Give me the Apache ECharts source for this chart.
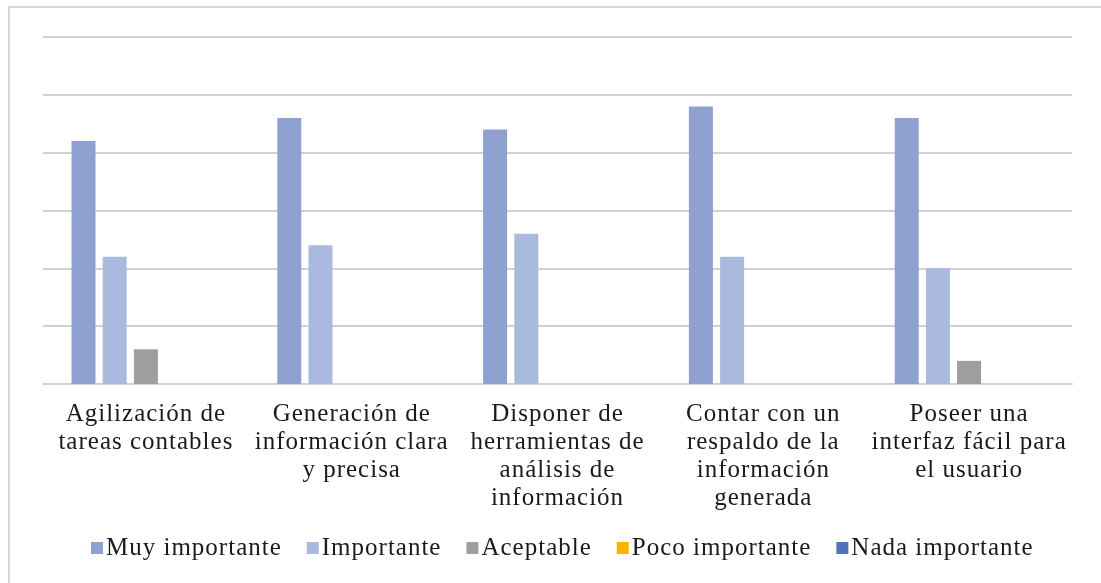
<!DOCTYPE html>
<html>
<head>
<meta charset="utf-8">
<script src="https://cdn.jsdelivr.net/npm/echarts@6/dist/echarts.min.js"></script>
<style>
    html, body { margin: 0; padding: 0; background: #fff; }
    #frame { position: absolute; left: 8px; top: 6px; width: 1200px; height: 700px;
             border-left: 2px solid #d6d6d6; border-top: 2px solid #d6d6d6; }
    #chart { position: absolute; left: 0; top: 0; width: 1101px; height: 583px; }
</style>
</head>
<body>
<div id="frame"></div>
<div id="chart"></div>
<script>
    // categorías (con saltos de línea como en el original)
    var categories = [
        'Agilización de\ntareas contables',
        'Generación de\ninformación clara\ny precisa',
        'Disponer de\nherramientas de\nanálisis de\ninformación',
        'Contar con un\nrespaldo de la\ninformación\ngenerada',
        'Poseer una\ninterfaz fácil para\nel usuario'
    ];
    var muyImportante = [21, 23, 22, 24, 23];
    var importante = [11, 12, 13, 11, 10];
    var aceptable = [3, 0, 0, 0, 2];
    var pocoImportante = [0, 0, 0, 0, 0];
    var nadaImportante = [0, 0, 0, 0, 0];

    var seriesNames = ['Muy importante', 'Importante', 'Aceptable', 'Poco importante', 'Nada importante'];
    var seriesData = [muyImportante, importante, aceptable, pocoImportante, nadaImportante];
    var colors = ['#8ea1d0', '#aabadf', '#9e9e9e', '#ffb300', '#4f72b8'];

    var font = '"Liberation Serif", "DejaVu Serif", serif';

    // el texto original está algo espaciado; se imita con letterSpacing del canvas
    var proto = CanvasRenderingContext2D.prototype;
    var origFill = proto.fillText, origMeasure = proto.measureText;
    proto.fillText = function () { this.letterSpacing = '1px'; return origFill.apply(this, arguments); };
    proto.measureText = function () { this.letterSpacing = '1px'; return origMeasure.apply(this, arguments); };

    var chart = echarts.init(document.getElementById('chart'));
    var series = [];
    for (var i = 0; i < seriesNames.length; i++) {
        series.push({
            name: seriesNames[i],
            type: 'bar',
            data: seriesData[i],
            barWidth: 24,
            barGap: '30%',
            itemStyle: { color: colors[i] }
        });
    }
    chart.setOption({
        animation: false,
        color: colors,
        grid: { left: 43, right: 29, top: 37, bottom: 199 },
        legend: {
            data: seriesNames,
            top: 530,
            left: 86,
            itemWidth: 12,
            itemHeight: 12,
            itemGap: 25,
            icon: 'rect',
            textStyle: { fontFamily: font, fontSize: 25, color: '#1a1a1a', padding: [0, 0, 0, -2] }
        },
        xAxis: {
            type: 'category',
            data: categories,
            axisLine: { lineStyle: { color: '#d0d0d0', width: 2 } },
            axisTick: { show: false },
            axisLabel: {
                interval: 0,
                margin: 16,
                fontFamily: font,
                fontSize: 25,
                lineHeight: 28,
                color: '#1a1a1a',
                align: 'center'
            }
        },
        yAxis: {
            type: 'value',
            min: 0,
            max: 30,
            interval: 5,
            axisLabel: { show: false },
            axisLine: { show: false },
            axisTick: { show: false },
            splitLine: { lineStyle: { color: '#d0d0d0', width: 2 } }
        },
        series: series
    });
</script>
</body>
</html>
